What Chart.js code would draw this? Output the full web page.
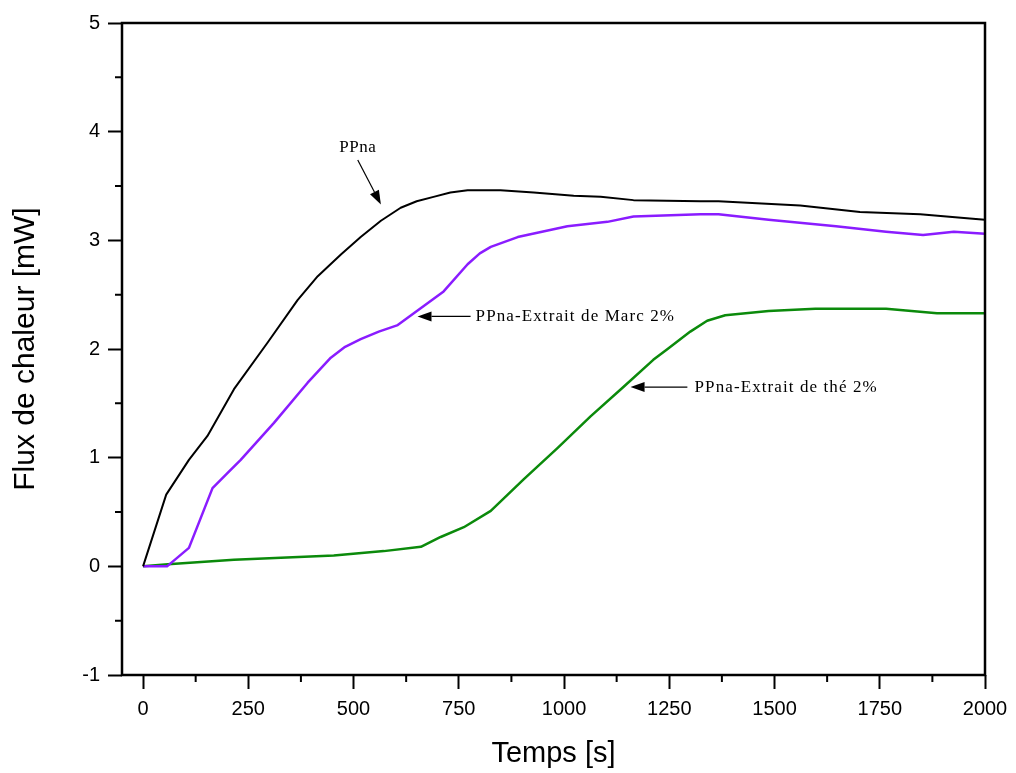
<!DOCTYPE html>
<html>
<head>
<meta charset="utf-8">
<script src="https://cdn.jsdelivr.net/npm/chart.js@4.4.1/dist/chart.umd.min.js"></script>
<style>
  body { margin: 0; background: #fff; }
  #wrap { width: 1016px; height: 773px; }
</style>
</head>
<body>
<div id="wrap"><canvas id="chart" width="1016" height="773"></canvas></div>
<script>
// values (time in s, heat flow in mW)
const ppnaTime = [0, 55, 109, 153, 216, 296, 367, 415, 470, 517, 565, 612, 650, 690, 730, 771, 849, 928, 1023, 1087, 1165, 1324, 1367, 1561, 1703, 1846, 1964, 2000];
const ppnaFlux = [0, 0.66, 0.98, 1.20, 1.63, 2.06, 2.45, 2.67, 2.87, 3.03, 3.18, 3.30, 3.36, 3.40, 3.44, 3.46, 3.46, 3.44, 3.41, 3.40, 3.37, 3.36, 3.36, 3.32, 3.26, 3.24, 3.20, 3.19];

const marcTime = [0, 57, 109, 165, 201, 232, 311, 391, 446, 480, 517, 560, 605, 714, 771, 800, 826, 890, 1008, 1103, 1165, 1324, 1367, 1486, 1646, 1765, 1853, 1926, 2000];
const marcFlux = [0, 0, 0.17, 0.72, 0.86, 0.98, 1.32, 1.69, 1.92, 2.02, 2.09, 2.16, 2.22, 2.53, 2.78, 2.88, 2.94, 3.03, 3.13, 3.17, 3.22, 3.24, 3.24, 3.19, 3.13, 3.08, 3.05, 3.08, 3.06];

const theTime = [0, 59, 216, 453, 572, 660, 707, 762, 826, 904, 985, 1063, 1141, 1212, 1246, 1300, 1340, 1383, 1486, 1597, 1765, 1886, 2000];
const theFlux = [0, 0.02, 0.06, 0.10, 0.14, 0.18, 0.27, 0.36, 0.51, 0.80, 1.09, 1.38, 1.65, 1.90, 2.00, 2.16, 2.26, 2.31, 2.35, 2.37, 2.37, 2.33, 2.33];

const xTicks = [0, 250, 500, 750, 1000, 1250, 1500, 1750, 2000];
const xMinor = [125, 375, 625, 875, 1125, 1375, 1625, 1875];
const yTicks = [-1, 0, 1, 2, 3, 4, 5];
const yMinor = [-0.5, 0.5, 1.5, 2.5, 3.5, 4.5];

// text labels with arrows: [text, textX, textY, tailX, tailY, tipX, tipY] in data units
const notes = [
  ['PPna', 510, 3.85, 510, 3.74, 565, 3.33],
  ['PPna-Extrait de Marc 2%', 790, 2.30, 778, 2.30, 652, 2.30],
  ['PPna-Extrait de thé 2%', 1310, 1.65, 1293, 1.65, 1158, 1.65]
];

const toPoints = (xs, ys) => xs.map((x, i) => ({ x: x, y: ys[i] }));

const framePlugin = {
  id: 'frame',
  afterDraw(chart) {
    const { ctx, chartArea: a, scales: { x, y } } = chart;
    ctx.save();
    ctx.strokeStyle = '#000';
    ctx.lineWidth = 2.5;
    ctx.strokeRect(a.left, a.top, a.right - a.left, a.bottom - a.top);

    // minor ticks
    ctx.lineWidth = 2;
    ctx.beginPath();
    xMinor.forEach(v => {
      const px = x.getPixelForValue(v);
      ctx.moveTo(px, a.bottom);
      ctx.lineTo(px, a.bottom + 7);
    });
    yMinor.forEach(v => {
      const py = y.getPixelForValue(v);
      ctx.moveTo(a.left, py);
      ctx.lineTo(a.left - 7, py);
    });
    ctx.stroke();

    // annotations
    ctx.font = '17px "Liberation Serif", "Times New Roman", serif';
    ctx.fillStyle = '#000';
    ctx.textBaseline = 'middle';
    notes.forEach((n, i) => {
      const tx = x.getPixelForValue(n[1]), ty = y.getPixelForValue(n[2]);
      ctx.letterSpacing = i === 0 ? '0.5px' : '1.1px';
      ctx.textAlign = i === 0 ? 'center' : 'left';
      ctx.fillText(n[0], tx, ty);
      const x0 = x.getPixelForValue(n[3]), y0 = y.getPixelForValue(n[4]);
      const x1 = x.getPixelForValue(n[5]), y1 = y.getPixelForValue(n[6]);
      const ang = Math.atan2(y1 - y0, x1 - x0);
      const len = 14, half = 5;
      const bx = x1 - len * Math.cos(ang), by = y1 - len * Math.sin(ang);
      ctx.lineWidth = 1.2;
      ctx.beginPath();
      ctx.moveTo(x0, y0);
      ctx.lineTo(bx, by);
      ctx.stroke();
      ctx.beginPath();
      ctx.moveTo(x1, y1);
      ctx.lineTo(bx + half * Math.sin(ang), by - half * Math.cos(ang));
      ctx.lineTo(bx - half * Math.sin(ang), by + half * Math.cos(ang));
      ctx.closePath();
      ctx.fill();
    });
    ctx.restore();
  }
};

const tickFont = { family: '"Liberation Sans", Arial, sans-serif', size: 20 };

new Chart(document.getElementById('chart'), {
  type: 'line',
  data: {
    datasets: [
      { label: 'PPna', data: toPoints(ppnaTime, ppnaFlux), borderColor: '#000000', borderWidth: 2 },
      { label: 'PPna-Extrait de Marc 2%', data: toPoints(marcTime, marcFlux), borderColor: '#8a1cff', borderWidth: 2.5 },
      { label: 'PPna-Extrait de thé 2%', data: toPoints(theTime, theFlux), borderColor: '#0b8a0b', borderWidth: 2.5 }
    ]
  },
  options: {
    responsive: false,
    animation: false,
    events: [],
    elements: { point: { radius: 0 }, line: { tension: 0, borderJoinStyle: 'round' } },
    layout: { padding: { top: 23, right: 31, left: 0, bottom: 0 } },
    plugins: { legend: { display: false }, tooltip: { enabled: false } },
    scales: {
      x: {
        type: 'linear',
        min: -50,
        max: 2000,
        afterBuildTicks: s => { s.ticks = xTicks.map(v => ({ value: v })); },
        afterFit: s => { s.height = 98; },
        grid: { drawOnChartArea: false, tickLength: 14, tickWidth: 2, tickColor: '#000' },
        border: { display: false },
        ticks: { color: '#000', font: tickFont, padding: 8, maxRotation: 0, callback: v => String(v) },
        title: {
          display: true, text: 'Temps [s]', color: '#000',
          font: { family: '"Liberation Sans", Arial, sans-serif', size: 29 },
          padding: { top: 0, bottom: 2 }
        }
      },
      y: {
        type: 'linear',
        min: -1,
        max: 5,
        afterBuildTicks: s => { s.ticks = yTicks.map(v => ({ value: v })); },
        afterFit: s => { s.width = 122; },
        grid: { drawOnChartArea: false, tickLength: 14, tickWidth: 2, tickColor: '#000' },
        border: { display: false },
        ticks: { color: '#000', font: tickFont, padding: 8, callback: v => String(v) },
        title: {
          display: true, text: 'Flux de chaleur [mW]', color: '#000',
          font: { family: '"Liberation Sans", Arial, sans-serif', size: 30 },
          padding: { top: 8, bottom: 0 }
        }
      }
    }
  },
  plugins: [framePlugin]
});
</script>
</body>
</html>
